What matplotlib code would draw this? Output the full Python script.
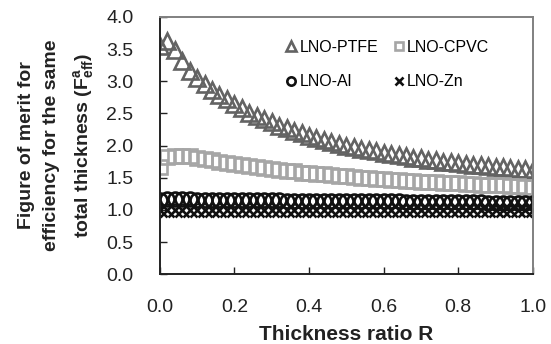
import matplotlib
matplotlib.use("Agg")
import matplotlib.pyplot as plt
import numpy as np

plt.rcParams["font.family"] = ["Liberation Sans", "DejaVu Sans"]
plt.rcParams["mathtext.fontset"] = "custom"
plt.rcParams["mathtext.rm"] = "Liberation Sans"
plt.rcParams["mathtext.bf"] = "Liberation Sans:bold"

# thickness ratio R, sampled every 0.02
R = np.linspace(0.0, 1.0, 51)

ptfe = [3.54, 3.63, 3.48, 3.32, 3.16, 3.05, 2.95, 2.86, 2.79, 2.72,
        2.65, 2.58, 2.51, 2.46, 2.41, 2.36, 2.31, 2.27, 2.23, 2.19,
        2.15, 2.12, 2.09, 2.06, 2.03, 2.00, 1.98, 1.95, 1.93, 1.91,
        1.89, 1.87, 1.85, 1.83, 1.81, 1.80, 1.78, 1.77, 1.75, 1.74,
        1.73, 1.71, 1.70, 1.69, 1.68, 1.67, 1.66, 1.65, 1.64, 1.63,
        1.62]
cpvc = [1.66, 1.82, 1.84, 1.84, 1.83, 1.81, 1.79, 1.77, 1.75, 1.73,
        1.71, 1.70, 1.68, 1.67, 1.65, 1.64, 1.62, 1.61, 1.60, 1.58,
        1.57, 1.56, 1.55, 1.54, 1.53, 1.52, 1.51, 1.50, 1.49, 1.48,
        1.48, 1.47, 1.46, 1.45, 1.45, 1.44, 1.43, 1.43, 1.42, 1.41,
        1.41, 1.40, 1.40, 1.39, 1.39, 1.38, 1.38, 1.37, 1.37, 1.36,
        1.36]
al = [1.16, 1.17, 1.17, 1.17, 1.17, 1.16, 1.16, 1.16, 1.16, 1.16,
      1.16, 1.15, 1.15, 1.15, 1.15, 1.15, 1.15, 1.14, 1.14, 1.14,
      1.14, 1.14, 1.14, 1.14, 1.13, 1.13, 1.13, 1.13, 1.13, 1.13,
      1.13, 1.13, 1.13, 1.12, 1.12, 1.12, 1.12, 1.12, 1.12, 1.12,
      1.12, 1.12, 1.12, 1.12, 1.11, 1.11, 1.11, 1.11, 1.11, 1.11,
      1.11]
zn = [0.99] * 51

fig = plt.figure(figsize=(5.51, 3.44), dpi=100)
ax = fig.add_axes([0.290, 0.203, 0.677, 0.748])

ms_kw = dict(linestyle="none", markerfacecolor="none", markeredgewidth=1.9)
h1, = ax.plot(R, ptfe, marker="^", markersize=11, color="#636363", label="LNO-PTFE", **ms_kw)
h2, = ax.plot(R, cpvc, marker="s", markersize=9.5, color="#a6a6a6", label="LNO-CPVC", **ms_kw)
h3, = ax.plot(R, al, marker="o", markersize=10, color="#111111", label="LNO-Al", **ms_kw)
h4, = ax.plot(R, zn, marker="x", markersize=9.5, color="#111111", label="LNO-Zn", **ms_kw)

ax.set_xlim(0, 1.0)
ax.set_ylim(0, 4.0)
ax.set_xticks(np.arange(0, 1.01, 0.2))
ax.set_yticks(np.arange(0, 4.01, 0.5))
ax.xaxis.set_major_formatter(matplotlib.ticker.FormatStrFormatter("%.1f"))
ax.yaxis.set_major_formatter(matplotlib.ticker.FormatStrFormatter("%.1f"))
ax.tick_params(direction="in", length=5, width=1, labelsize=14, colors="#222222")
ax.tick_params(axis="x", pad=18)
ax.tick_params(axis="y", pad=19)

for side in ["left", "bottom"]:
    ax.spines[side].set_color("#222222")
    ax.spines[side].set_linewidth(1.4)
for side in ["top", "right"]:
    ax.spines[side].set_color("#808080")
    ax.spines[side].set_linewidth(1.4)

ax.set_xlabel("Thickness ratio R", fontsize=15, fontweight="bold", color="#222222", labelpad=6)
ax.set_ylabel("Figure of merit for\nefficiency for the same\ntotal thickness ($\\mathbf{F^{a}_{eff}}$)",
              fontsize=14, fontweight="bold", color="#222222", linespacing=1.62)
ax.yaxis.set_label_coords(-0.172, 0.5)

# legend rows: PTFE / CPVC on top, Al / Zn below
ax.legend([h1, h3, h2, h4], ["LNO-PTFE", "LNO-Al", "LNO-CPVC", "LNO-Zn"],
          ncol=2, frameon=False, fontsize=11.5, markerscale=0.6,
          handlelength=0.6, handletextpad=0.2, columnspacing=1.0,
          labelspacing=1.2, loc="upper left", bbox_to_anchor=(0.34, 0.91),
          borderaxespad=0, borderpad=0)

fig.savefig("out.png", dpi=100)
